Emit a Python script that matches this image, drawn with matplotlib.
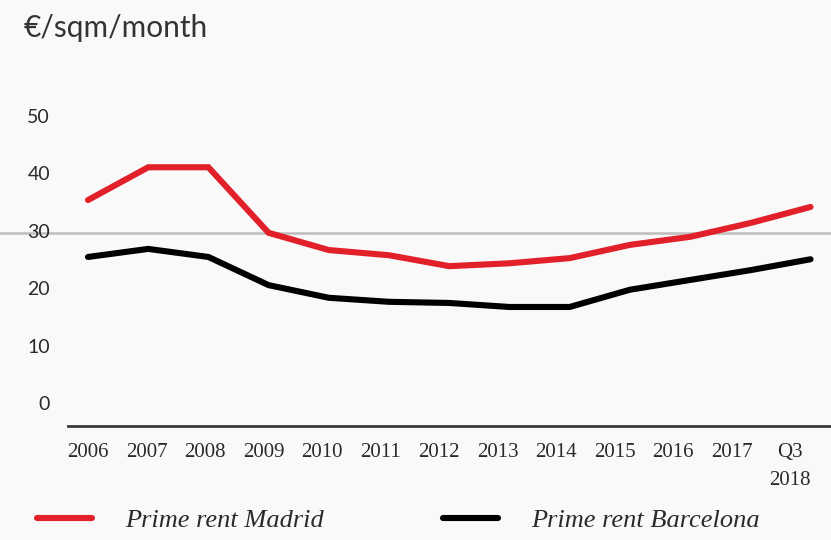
#!/usr/bin/env python3

import numpy as np
import matplotlib
matplotlib.use("Agg")
import matplotlib.pyplot as plt
from matplotlib.lines import Line2D

# ==========================
# DATA
# ==========================
years = ["2006", "2007", "2008", "2009", "2010", "2011", "2012",
         "2013", "2014", "2015", "2016", "2017", "Q3\n2018"]
madrid = [35.3, 41.0, 41.0, 29.6, 26.6, 25.7, 23.8,
          24.3, 25.2, 27.5, 28.9, 31.3, 34.1]
barcelona = [25.4, 26.8, 25.4, 20.5, 18.3, 17.6, 17.4,
             16.7, 16.7, 19.7, 21.4, 23.1, 25.0]
y_ticks = [0, 10, 20, 30, 40, 50]

# ==========================
# STYLE
# ==========================
W, H, DPI = 831, 540, 100
RED = "#e2202a"
BLACK = "#000000"
TEXT = "#2a2a2a"
LINE_W = 4.4
LABEL_STEP = 0.972   # tick labels sit slightly tighter than the line points

fig = plt.figure(figsize=(W / DPI, H / DPI), dpi=DPI, facecolor="#f9f9f9")

# axes placed in pixel terms
left, right, bottom, top = 68, 831, 426, 100
ax = fig.add_axes([left / W, 1 - bottom / H, (right - left) / W, (bottom - top) / H])
ax.set_facecolor("none")

# faint grey streak of the wood background
fig.add_artist(Line2D([0, 1], [1 - 233 / H, 1 - 233 / H], transform=fig.transFigure,
                      color="#bdbdbd", linewidth=1.8, zorder=0))

x = np.arange(len(years))
ax.plot(x, madrid, color=RED, linewidth=LINE_W, solid_capstyle="round",
        solid_joinstyle="miter", label="Prime rent Madrid")
ax.plot(x, barcelona, color=BLACK, linewidth=LINE_W, solid_capstyle="round",
        solid_joinstyle="miter", label="Prime rent Barcelona")

ax.set_xlim(-0.332, 12.34)
ax.set_ylim(-4.0, 52.7)

# ---- spines ----
for s in ["left", "right", "top"]:
    ax.spines[s].set_visible(False)
ax.spines["bottom"].set_color("#3a3a3a")
ax.spines["bottom"].set_linewidth(2.0)

# ---- y ticks ----
ax.set_yticks(y_ticks)
ax.set_yticklabels([str(v) for v in y_ticks], fontfamily="Lato",
                   fontsize=14, color=TEXT)
ax.tick_params(axis="y", length=0, pad=13)

# ---- x ticks ----
ax.set_xticks(x * LABEL_STEP)
ax.set_xticklabels(years, fontfamily="Liberation Serif", fontsize=15,
                   color=TEXT, linespacing=1.65, va="top")
ax.tick_params(axis="x", length=0, pad=12)

# ---- unit title ----
fig.text(24 / W, 1 - 28 / H, "€/sqm/month", fontfamily="Lato", fontsize=21.5,
         color="#333333", ha="left", va="center")

# ---- legend ----
fig.legend(loc="center left", bbox_to_anchor=(37 / W, 1 - 520 / H),
           ncol=2, frameon=False, borderpad=0, borderaxespad=0,
           handlelength=2.1, handletextpad=1.25, columnspacing=4.5,
           prop={"family": "Liberation Serif", "style": "italic", "size": 19},
           labelcolor=TEXT)

plt.savefig("out.png", dpi=DPI, facecolor=fig.get_facecolor())
plt.close()
